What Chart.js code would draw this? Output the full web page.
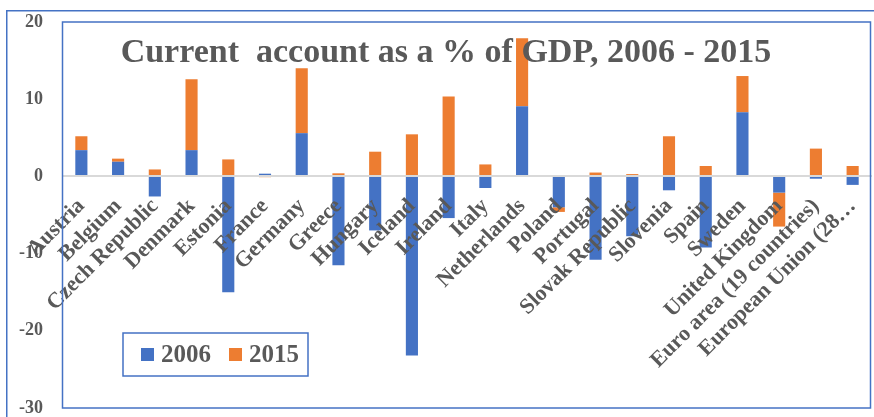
<!DOCTYPE html>
<html><head><meta charset="utf-8">
<script src="https://cdn.jsdelivr.net/npm/chart.js@4/dist/chart.umd.min.js"></script>
<style>html,body{margin:0;padding:0;background:#fff;}#wrap{width:874px;height:417px;position:relative;overflow:hidden;}</style>
</head><body><div id="wrap"><canvas id="c" width="874" height="417"></canvas></div>
<script>
const categories = ['Austria','Belgium','Czech Republic','Denmark','Estonia','France','Germany','Greece','Hungary','Iceland','Ireland','Italy','Netherlands','Poland','Portugal','Slovak Republic','Slovenia','Spain','Sweden','United Kingdom','Euro area (19 countries)','European Union (28\u2026'];
const values2006 = [3.4, 1.9, -2.6, 3.4, -15.0, 0.35, 5.6, -11.5, -7.0, -23.2, -5.4, -1.5, 9.1, -4.0, -10.8, -7.75, -1.8, -9.2, 8.3, -2.1, -0.3, -1.1];
const values2015 = [1.8, 0.4, 0.9, 9.2, 2.2, -0.1, 8.4, 0.4, 3.2, 5.45, 10.35, 1.55, 8.8, -0.6, 0.5, 0.3, 5.2, 1.35, 4.7, -4.4, 3.6, 1.35];
const seriesNames = ['2006', '2015'];
const seriesColors = ['#4472C4', '#ED7D31'];
const yMin = -30, yMax = 20, yStep = 10;
const titleText = 'Current  account as a % of GDP, 2006 - 2015';
const FONT = '"Liberation Serif", "Times New Roman", serif';
const TEXT = '#595959';

const decor = {
  id: 'decor',
  beforeDraw(chart) {
    const ctx = chart.ctx;
    ctx.save(); ctx.fillStyle = '#fff'; ctx.fillRect(0, 0, chart.width, chart.height); ctx.restore();
  },
  afterDraw(chart) {
    const ctx = chart.ctx, a = chart.chartArea;
    ctx.save();
    ctx.strokeStyle = '#4472C4'; ctx.lineWidth = 1.5;
    ctx.strokeRect(6.75, 10.75, 900, 500);
    ctx.strokeRect(a.left - 0.5, a.top, a.right - a.left, a.bottom - a.top);
    ctx.fillStyle = TEXT;
    ctx.font = 'bold 34px ' + FONT;
    ctx.textAlign = 'center'; ctx.textBaseline = 'alphabetic';
    ctx.fillText(titleText, 446, 62);
    // legend
    ctx.strokeStyle = '#4472C4'; ctx.lineWidth = 1.5;
    ctx.strokeRect(123, 333, 185, 43);
    ctx.font = 'bold 25px ' + FONT;
    ctx.textAlign = 'left';
    const xs = [141, 229];
    chart.data.datasets.forEach((ds, i) => {
      ctx.fillStyle = ds.backgroundColor;
      ctx.fillRect(xs[i], 348, 13, 13);
      ctx.fillStyle = TEXT;
      ctx.fillText(ds.label, xs[i] + 20, 362);
    });
    ctx.restore();
  }
};

function noPad(s) { s.paddingTop = 0; s.paddingBottom = 0; s.paddingLeft = 0; s.paddingRight = 0; }

new Chart(document.getElementById('c'), {
  type: 'bar',
  data: {
    labels: categories,
    datasets: [
      { label: seriesNames[0], data: values2006, backgroundColor: seriesColors[0], borderWidth: 0 },
      { label: seriesNames[1], data: values2015, backgroundColor: seriesColors[1], borderWidth: 0 }
    ]
  },
  options: {
    responsive: false, animation: false, devicePixelRatio: 1,
    barPercentage: 0.33, categoryPercentage: 1,
    layout: { padding: { top: 22, bottom: 9, left: 0, right: 3 } },
    plugins: { legend: { display: false }, title: { display: false }, tooltip: { enabled: false } },
    scales: {
      x: {
        stacked: true,
        position: { y: 0 },
        afterFit: noPad,
        grid: { display: false, drawTicks: false },
        border: { display: true, color: '#D9D9D9', width: 2, z: 1 },
        ticks: { z: 2, autoSkip: false, minRotation: 45, maxRotation: 45, padding: 17, color: TEXT, font: { family: FONT, weight: 'bold', size: 22 } }
      },
      y: {
        stacked: true, min: yMin, max: yMax,
        grid: { display: false, drawTicks: false },
        border: { display: false },
        afterFit: s => { s.width = 63; noPad(s); },
        ticks: { stepSize: yStep, padding: 20, color: TEXT, font: { family: FONT, weight: 'bold', size: 18 } }
      }
    }
  },
  plugins: [decor]
});
</script></body></html>
